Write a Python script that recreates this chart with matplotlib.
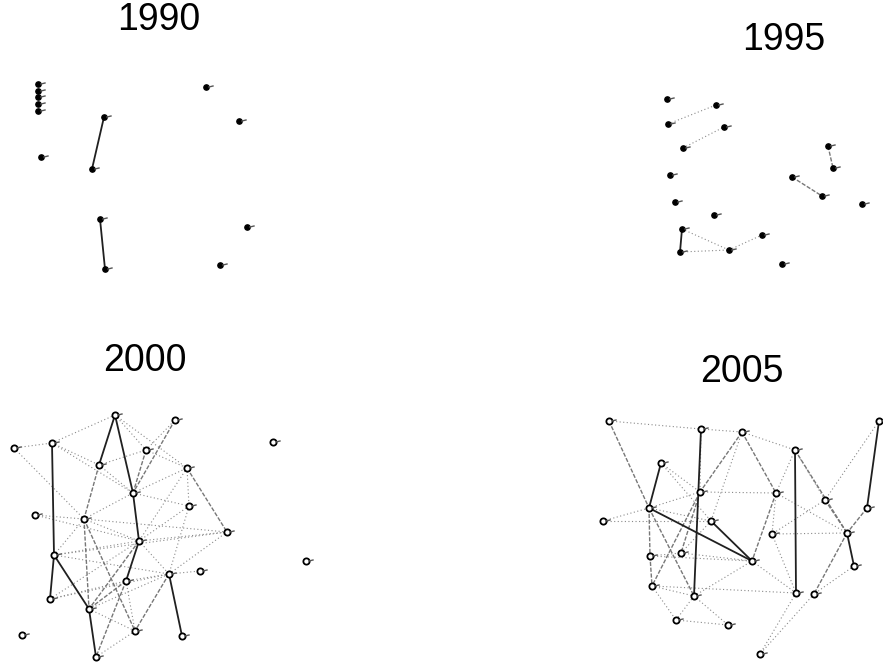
import matplotlib.pyplot as plt

plt.rcParams['font.family'] = ['Liberation Sans', 'DejaVu Sans']

# node layouts per year (layout units = pixels of the page)
nodes_1990 = ['a1', 'a2', 'a3', 'a4', 'a5', 'b', 'c', 'd', 'e', 'f', 'g', 'h', 'i', 'j']
x_1990 = [38, 38, 38, 38, 38, 206, 239, 104, 41, 92, 100, 105, 247, 220]
y_1990 = [84, 91, 97, 104, 111, 87, 121, 117, 157, 169, 219, 269, 227, 265]
strong_1990 = [('d', 'f'), ('g', 'h')]
medium_1990 = []
weak_1990 = []

nodes_1995 = ['a', 'b', 'c', 'd', 'e', 'f', 'g', 'h', 'i', 'j', 'k', 'l', 'm',
              'n', 'o', 'p', 'q', 'r']
x_1995 = [667, 716, 668, 724, 683, 670, 675, 714, 682, 680, 729, 762, 782,
          828, 833, 792, 822, 862]
y_1995 = [99, 105, 124, 127, 148, 175, 202, 215, 229, 252, 250, 235, 264,
          146, 168, 177, 196, 204]
strong_1995 = [('i', 'j')]
medium_1995 = [('n', 'o'), ('p', 'q')]
weak_1995 = [('c', 'b'), ('e', 'd'), ('i', 'k'), ('j', 'k'), ('k', 'l')]

nodes_2000 = ['A', 'B', 'C', 'D', 'E', 'F', 'G', 'H', 'I', 'J', 'K', 'L', 'M',
              'N', 'O', 'P', 'Q', 'R', 'S', 'T', 'U', 'V', 'W', 'X', 'Y']
x_2000 = [115, 175, 52, 14, 146, 99, 187, 133, 189, 35, 84, 227, 139,
          54, 169, 200, 126, 50, 89, 135, 182, 22, 96, 273, 306]
y_2000 = [415, 420, 443, 448, 450, 465, 468, 493, 506, 515, 519, 532, 541,
          555, 574, 571, 581, 599, 609, 631, 636, 635, 657, 442, 561]
strong_2000 = [('C', 'N'), ('A', 'F'), ('A', 'H'), ('H', 'M'), ('M', 'Q'),
               ('N', 'S'), ('S', 'W'), ('O', 'U'), ('N', 'R')]
medium_2000 = [('F', 'K'), ('K', 'T'), ('G', 'L'), ('E', 'H'), ('Q', 'S'),
               ('Q', 'W'), ('M', 'S'), ('O', 'T'), ('B', 'H'), ('K', 'S')]
weak_2000 = [('A', 'C'), ('A', 'E'), ('A', 'G'), ('C', 'F'), ('D', 'K'),
             ('J', 'K'), ('K', 'H'), ('K', 'M'), ('K', 'N'), ('K', 'L'),
             ('H', 'I'), ('H', 'G'), ('E', 'G'), ('G', 'M'), ('G', 'I'),
             ('M', 'L'), ('N', 'M'), ('N', 'O'), ('M', 'O'), ('O', 'P'),
             ('O', 'L'), ('O', 'Q'), ('R', 'M'), ('R', 'O'), ('S', 'T'),
             ('T', 'Q'), ('T', 'W'), ('I', 'O'), ('F', 'H'), ('J', 'M'),
             ('C', 'H'), ('N', 'L'), ('E', 'B'), ('F', 'E'), ('D', 'C'),
             ('R', 'Q'), ('S', 'O'), ('I', 'M')]

nodes_2005 = ['a', 'b', 'c', 'd', 'e', 'f', 'g', 'h', 'i', 'j', 'k', 'l', 'm',
              'n', 'o', 'p', 'q', 'r', 's', 't', 'u', 'v', 'w', 'x', 'y', 'z']
x_2005 = [609, 701, 742, 879, 795, 661, 700, 776, 825, 649, 867, 603, 711,
          772, 847, 650, 681, 752, 854, 652, 694, 796, 814, 676, 728, 760]
y_2005 = [421, 429, 432, 421, 450, 463, 492, 493, 500, 508, 508, 521, 521,
          534, 533, 556, 553, 561, 566, 586, 596, 593, 594, 620, 625, 654]
strong_2005 = [('b', 'u'), ('e', 'v'), ('j', 'r'), ('m', 'r'), ('d', 'k'),
               ('o', 's'), ('f', 'j')]
medium_2005 = [('a', 'j'), ('c', 'h'), ('h', 'r'), ('g', 't'), ('j', 'u'),
               ('i', 'o'), ('e', 'o'), ('o', 'w'), ('p', 't'), ('c', 'g'),
               ('j', 'p'), ('g', 'q'), ('k', 'o')]
weak_2005 = [('a', 'b'), ('b', 'c'), ('c', 'm'), ('f', 'g'), ('l', 'm'),
             ('w', 'z'), ('v', 'z'), ('t', 'u'), ('t', 'v'), ('u', 'y'),
             ('x', 'u'), ('p', 'r'), ('q', 'r'), ('n', 'o'), ('q', 'm'),
             ('e', 'h'), ('f', 'm'), ('j', 'g'), ('b', 'g'), ('h', 'n'),
             ('n', 'v'), ('r', 'v'), ('i', 'n'), ('e', 'i'), ('d', 'i'),
             ('l', 'j'), ('p', 'q'), ('u', 'r'), ('x', 'y'), ('h', 'o'),
             ('c', 'e'), ('g', 'h'), ('s', 'w'), ('j', 'm'), ('t', 'x')]

years = ['1990', '1995', '2000', '2005']
title_pos = [(159, 20), (784, 40), (145, 361), (742, 372)]

fig = plt.figure(figsize=(8.83, 6.62), dpi=100)
ax = fig.add_axes([0, 0, 1, 1])
ax.set_xlim(0, 883)
ax.set_ylim(662, 0)
ax.axis('off')


def draw_network(names, xs, ys, strong, medium, weak, hollow):
    pos = {n: (x, y) for n, x, y in zip(names, xs, ys)}
    for u, v in weak:
        ax.plot([pos[u][0], pos[v][0]], [pos[u][1], pos[v][1]],
                color='#8a8a8a', lw=0.8, ls=(0, (1, 2.2)), zorder=1)
    for u, v in medium:
        ax.plot([pos[u][0], pos[v][0]], [pos[u][1], pos[v][1]],
                color='#777777', lw=1.0, ls=(0, (3, 1.2)), zorder=2)
    for u, v in strong:
        ax.plot([pos[u][0], pos[v][0]], [pos[u][1], pos[v][1]],
                color='#202020', lw=1.3, zorder=3)
    if hollow:
        ax.plot(xs, ys, 'o', ms=4.5, mfc='white', mec='black', mew=1.3,
                ls='none', zorder=4)
    else:
        ax.plot(xs, ys, 'o', ms=3.8, color='black', ls='none', zorder=4)
    # short label stubs beside each node
    for x, y in zip(xs, ys):
        ax.plot([x + 3, x + 7], [y, y - 1], color='#555555', lw=1.0,
                zorder=4)


draw_network(nodes_1990, x_1990, y_1990, strong_1990, medium_1990, weak_1990, False)
draw_network(nodes_1995, x_1995, y_1995, strong_1995, medium_1995, weak_1995, False)
draw_network(nodes_2000, x_2000, y_2000, strong_2000, medium_2000, weak_2000, True)
draw_network(nodes_2005, x_2005, y_2005, strong_2005, medium_2005, weak_2005, True)

for year, (tx, ty) in zip(years, title_pos):
    ax.text(tx, ty, year, fontsize=27, ha='center', va='center', color='black')

fig.savefig('out.png', dpi=100, facecolor='white')
